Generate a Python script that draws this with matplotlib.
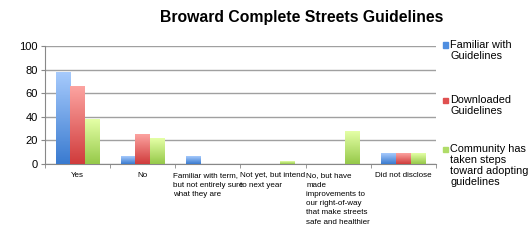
import matplotlib
matplotlib.use("Agg")
import matplotlib.pyplot as plt
import matplotlib.colors as mcolors
import matplotlib.patches as mpatches
import numpy as np

plt.rcParams['font.family'] = ['Liberation Sans', 'DejaVu Sans']

categories = ["Yes", "No", "Familiar with term,\nbut not entirely sure\nwhat they are",
              "Not yet, but intend\nto next year",
              "No, but have\nmade\nimprovements to\nour right-of-way\nthat make streets\nsafe and healthier",
              "Did not disclose"]
familiar = [78, 6, 6, 0, 0, 9]
downloaded = [66, 25, 0, 0, 0, 9]
community = [38, 22, 0, 2, 28, 9]
series_names = ["Familiar with\nGuidelines", "Downloaded\nGuidelines",
                "Community has\ntaken steps\ntoward adopting\nguidelines"]

# top / bottom colours for the gradient fill
grads = [("#a6cafc", "#3a7bd0"), ("#fca3a0", "#d03c3c"), ("#e4ffa6", "#96c94a")]
solid = ["#4f8ee0", "#e05050", "#b0dc68"]

fig = plt.figure(figsize=(5.29, 2.4), dpi=100)
ax = fig.add_axes([0.085, 0.317, 0.739, 0.491])

x = np.arange(len(categories))
w = 0.225
grad_img = np.linspace(1, 0, 64).reshape(-1, 1)
for i, vals in enumerate([familiar, downloaded, community]):
    bars = ax.bar(x + (i - 1) * w, vals, w, color=solid[i], label=series_names[i], zorder=2)
    cmap = mcolors.LinearSegmentedColormap.from_list("g%d" % i, [grads[i][1], grads[i][0]])
    for b in bars:
        if b.get_height() <= 0:
            continue
        bx, by = b.get_x(), b.get_y()
        ax.imshow(grad_img, extent=[bx, bx + b.get_width(), by, by + b.get_height()],
                  cmap=cmap, aspect='auto', zorder=3)

ax.set_xlim(-0.5, len(categories) - 0.5)
ax.set_ylim(0, 100)
ax.set_yticks(range(0, 101, 20))
ax.yaxis.grid(True, color="#a0a0a0", linewidth=1)
ax.set_axisbelow(True)
ax.set_xticks(x)
ax.set_xticklabels(categories, fontsize=5.8, multialignment='left', va='top', linespacing=1.45)
ax.set_xticks(np.arange(-0.5, len(categories)), minor=True)
ax.tick_params(axis='x', which='major', length=0, pad=6)
ax.tick_params(axis='x', which='minor', length=3, color="#888888")
ax.tick_params(axis='y', length=3, color="#888888", labelsize=8, pad=2)
for s in ["top", "right"]:
    ax.spines[s].set_visible(False)
ax.spines["left"].set_color("#888888")
ax.spines["bottom"].set_color("#888888")

fig.text(0.571, 0.929, "Broward Complete Streets Guidelines", ha='center', va='center',
         fontsize=11.3, fontweight='bold')

# legend drawn by hand so the swatch sits beside the first line
leg_tops = [0.835, 0.603, 0.398]
for i, name in enumerate(series_names):
    fig.patches.append(mpatches.Rectangle((0.838, leg_tops[i] - 0.033), 0.0095, 0.021,
                                          transform=fig.transFigure, color=solid[i]))
    fig.text(0.851, leg_tops[i], name, ha='left', va='top', fontsize=7.8, linespacing=1.12)

fig.savefig("out.png", dpi=100)
